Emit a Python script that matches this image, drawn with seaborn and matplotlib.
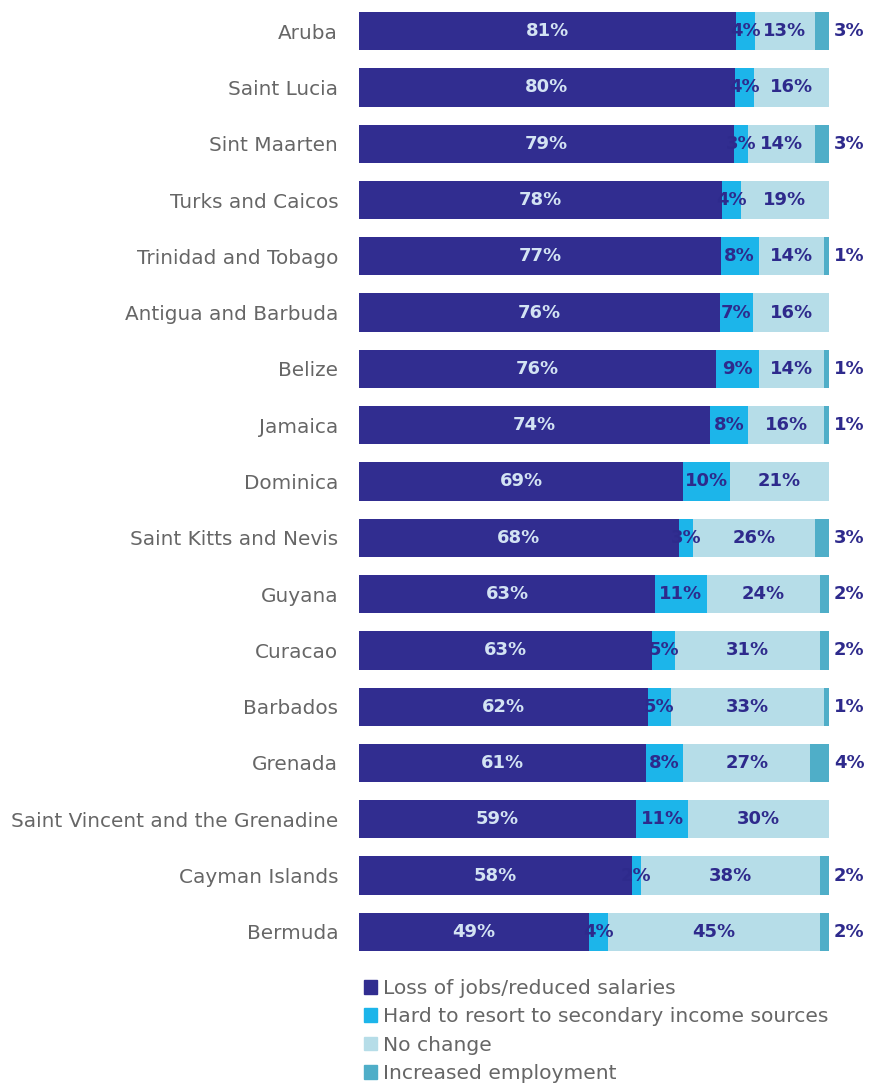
import matplotlib
matplotlib.use("Agg")
import matplotlib.pyplot as plt
import matplotlib.patches as mpatches
import seaborn as sns
import numpy as np
import pandas as pd

countries = ["Aruba", "Saint Lucia", "Sint Maarten", "Turks and Caicos", "Trinidad and Tobago",
             "Antigua and Barbuda", "Belize", "Jamaica", "Dominica", "Saint Kitts and Nevis",
             "Guyana", "Curacao", "Barbados", "Grenada", "Saint Vincent and the Grenadine",
             "Cayman Islands", "Bermuda"]
loss = [81, 80, 79, 78, 77, 76, 76, 74, 69, 68, 63, 63, 62, 61, 59, 58, 49]
hard = [4, 4, 3, 4, 8, 7, 9, 8, 10, 3, 11, 5, 5, 8, 11, 2, 4]
nochange = [13, 16, 14, 19, 14, 16, 14, 16, 21, 26, 24, 31, 33, 27, 30, 38, 45]
increased = [3, 0, 3, 0, 1, 0, 1, 1, 0, 3, 2, 2, 1, 4, 0, 2, 2]
series_names = ["Loss of jobs/reduced salaries", "Hard to resort to secondary income sources",
                "No change", "Increased employment"]
colors = ["#312D90", "#1CB5EA", "#B6DDE8", "#4FAEC8"]

sns.set_style("white")
plt.rcParams['font.family'] = ['DejaVu Sans']

vals = np.array([loss, hard, nochange, increased], dtype=float)
norm = vals / vals.sum(axis=0) * 100
cum = np.cumsum(norm, axis=0)
starts = cum - norm

fig = plt.figure(figsize=(8.73, 10.84), dpi=100)
ax = fig.add_axes([359/873, 1 - 960/1084, 470/873, (960 - 3)/1084])

for i in range(3, -1, -1):
    df = pd.DataFrame({"country": countries, "value": cum[i]})
    sns.barplot(data=df, y="country", x="value", orient="h", color=colors[i],
                width=0.68, saturation=1, ax=ax, edgecolor="none")

text_dark = "#2E2A8C"
for j in range(len(countries)):
    for i in range(3):
        if vals[i, j] <= 0:
            continue
        xc = starts[i, j] + norm[i, j] / 2
        col = "#D3E3F3" if i == 0 else text_dark
        ax.text(xc, j, f"{int(vals[i, j])}%", ha="center", va="center",
                fontsize=13, fontweight="bold", color=col)
    if vals[3, j] > 0:
        ax.text(104.3, j, f"{int(vals[3, j])}%", ha="center", va="center",
                fontsize=13, fontweight="bold", color=text_dark, clip_on=False)

ax.set_xlim(0, 100)
ax.set_ylim(len(countries) - 0.5, -0.5)
ax.set_xlabel("")
ax.set_ylabel("")
ax.set_xticks([])
ax.tick_params(axis="y", length=0, pad=15, labelsize=14.4, labelcolor="#666666")
for s in ax.spines.values():
    s.set_visible(False)

handles = [mpatches.Patch(color=c, label=n) for c, n in zip(colors, series_names)]
leg = fig.legend(handles=handles, loc="upper left", bbox_to_anchor=(364/873, 1 - 979/1084),
                 frameon=False, fontsize=14.6, handlelength=0.65, handleheight=0.65,
                 handletextpad=0.3, labelspacing=0.46, borderpad=0, borderaxespad=0)
for t in leg.get_texts():
    t.set_color("#666666")

fig.savefig("out.png", dpi=100)
